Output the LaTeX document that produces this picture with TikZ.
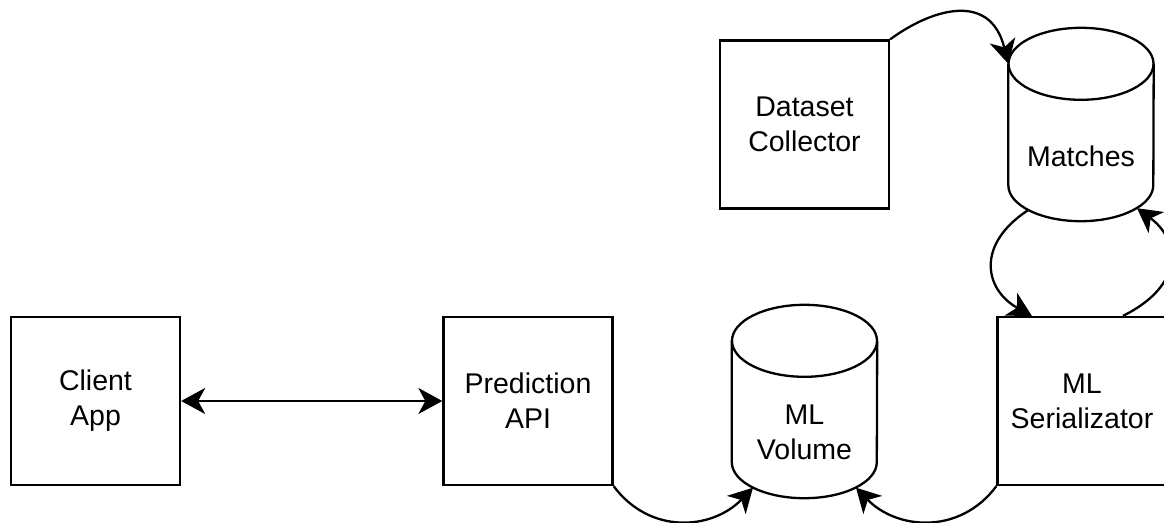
\documentclass[tikz,border=0pt]{standalone}
\usepackage{fontspec}
\setmainfont{Liberation Sans}
\usetikzlibrary{arrows.meta,calc}
\newcommand\drawcyl[1]{%
  \draw[line width=2.3pt] ($(#1.north west)+(0,36)$) -- ($(#1.south west)+(0,-36)$)
    arc[start angle=180,end angle=360,x radius=72.5pt,y radius=36pt]
    -- ($(#1.north east)+(0,36)$);
  \draw[line width=2.3pt] ($(#1.north)+(0,36)$) ellipse[x radius=72.5pt,y radius=36pt];
}
\begin{document}
\begin{tikzpicture}[x=1pt,y=-1pt,
  txt/.style={font=\fontsize{28.5}{35}\selectfont, align=center, inner sep=0pt},
  box/.style={txt, draw, line width=2.3pt, minimum width=169pt, minimum height=168pt},
  cylbox/.style={minimum width=145pt, minimum height=193pt, inner sep=0pt},
  conn/.style={line width=2.3pt, -{Stealth[length=24pt,width=26pt,inset=7pt]}},
  conn2/.style={line width=2.3pt, {Stealth[length=24pt,width=26pt,inset=7pt]}-{Stealth[length=24pt,width=26pt,inset=7pt]}},
]
\useasboundingbox (0,0) rectangle (1164,522);
% boxes
\node[box] (client) at (95.5,401) {Client\\App};
\node[box] (pred) at (528,401) {Prediction\\API};
\node[box] (ser) at (1082,401) {ML\\Serializator};
\node[box] (dc) at (804.5,124.5) {Dataset\\Collector};
% cylinders
\node[cylbox] (vol) at (804.5,401.5) {};
\drawcyl{vol}
\node[txt] (volt) at ($(vol.center)+(0,31)$) {ML\\Volume};
\node[cylbox] (mat) at (1081,124.5) {};
\drawcyl{mat}
\node[txt] (matt) at ($(mat.center)+(0,32)$) {Matches};
% connectors
\draw[conn2] (client.east) -- (pred.west);
\draw[conn] (pred.south east) .. controls (650,535) and (712,530) .. ($(vol.south)+(-51.5,-10.5)$);
\draw[conn] (ser.south west) .. controls (960,535) and (897,530) .. ($(vol.south)+(51.5,-10.5)$);
\draw[conn] (dc.north east) .. controls (930,10) and (990,-10) .. ($(mat.north west)+(0,36)$);
\draw[conn] ($(mat.south)+(-53,-11)$) .. controls (975,245) and (985,290) .. ($(ser.north west)+(35.5,0)$);
\draw[conn] ($(ser.north)+(41,0)$) .. controls (1185,285) and (1180,240) .. ($(mat.south)+(56,-13)$);
\end{tikzpicture}
\end{document}
